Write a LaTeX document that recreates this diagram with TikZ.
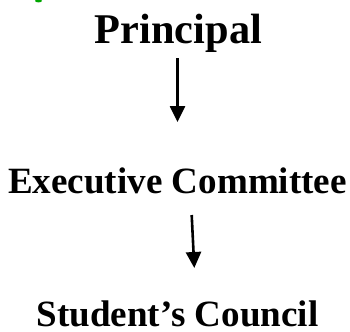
\documentclass[tikz,border=0pt]{standalone}
\usepackage{fontspec}
\setmainfont{Liberation Serif}
\usetikzlibrary{arrows.meta}
\begin{document}
\begin{tikzpicture}[x=1bp,y=-1bp,
  title/.style={inner sep=0pt,anchor=base,font=\fontsize{42.5}{44}\selectfont\bfseries},
  level/.style={inner sep=0pt,anchor=base,font=\fontsize{37.2}{39}\selectfont\bfseries},
  down/.style={line width=2.6bp,-{Triangle[length=16bp,width=15bp]}}]
  \useasboundingbox (0,0) rectangle (350,332);
  % small green mark in the corner
  \fill[green!65!black] (38.5,0.8) ellipse (3.5 and 1.6);
  % chain of offices
  \node[title] (principal) at (178.5,43) {Principal};
  \node[level] (exec) at (177.5,193) {Executive Committee};
  \node[level] (council) at (177.5,326.5) {Student’s Council};
  % arrow ends between the titles
  \coordinate (a1s) at (177.5,58);
  \coordinate (a1e) at (177.5,122);
  \coordinate (a2s) at (191.7,215);
  \coordinate (a2e) at (194.3,268);
  \draw[down] (a1s) -- (a1e);
  \draw[down] (a2s) -- (a2e);
\end{tikzpicture}
\end{document}
